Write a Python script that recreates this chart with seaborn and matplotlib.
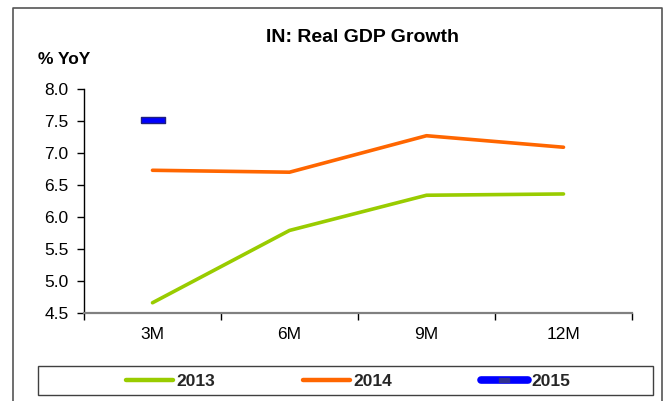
import matplotlib
matplotlib.use("Agg")
import matplotlib.pyplot as plt
from matplotlib.lines import Line2D
from matplotlib.patches import Rectangle
import numpy as np
import pandas as pd
import seaborn as sns

# Data
periods = ["3M", "6M", "9M", "12M"]
growth_2013 = [4.66, 5.79, 6.34, 6.36]
growth_2014 = [6.73, 6.70, 7.27, 7.09]
period_2015 = ["3M"]
growth_2015 = [7.51]
y_ticks = [4.5, 5.0, 5.5, 6.0, 6.5, 7.0, 7.5, 8.0]

GREEN = "#99CC00"
ORANGE = "#FF6600"
BLUE = "#0000FF"
NAVY = "#202080"

sns.set_theme(style="white")
plt.rcParams["font.family"] = ["Liberation Sans", "DejaVu Sans"]

W, H = 667, 401
fig = plt.figure(figsize=(W / 100, H / 100), dpi=100)
fig.patch.set_facecolor("white")

def fx(px):
    return px / W

def fy(py):
    return 1 - py / H

ax = fig.add_axes([fx(84), fy(313), fx(632) - fx(84), fy(89) - fy(313)])
ax.set_facecolor("white")

df = pd.DataFrame({
    "period": periods * 2,
    "growth": growth_2013 + growth_2014,
    "year": ["2013"] * 4 + ["2014"] * 4,
})
sns.lineplot(data=df, x="period", y="growth", hue="year",
             palette={"2013": GREEN, "2014": ORANGE},
             linewidth=2.6, sort=False, legend=False, ax=ax)

# 2015: single observation drawn as a short horizontal bar marker
bar_marker = [(-4, -1), (4, -1), (4, 1), (-4, 1), (-4, -1)]
df15 = pd.DataFrame({"period": period_2015, "growth": growth_2015})
sns.lineplot(data=df15, x="period", y="growth", marker=bar_marker,
             markersize=17, markerfacecolor=BLUE, markeredgecolor=NAVY,
             markeredgewidth=1.0, color=BLUE, linewidth=0, legend=False, ax=ax)

ax.set_xlim(-0.5, 3.5)
ax.set_ylim(4.5, 8.0)
ax.set_yticks(y_ticks)
ax.set_yticklabels([f"{v:.1f}" for v in y_ticks])
ax.set_xticks(range(len(periods)))
ax.set_xticklabels(periods)
ax.set_xticks(np.arange(-0.5, len(periods), 1.0), minor=True)
ax.set_xlabel("")
ax.set_ylabel("")

for side in ("top", "right"):
    ax.spines[side].set_visible(False)
ax.spines["left"].set_color("black")
ax.spines["left"].set_linewidth(1.0)
ax.spines["bottom"].set_color("#808080")
ax.spines["bottom"].set_linewidth(1.6)

ax.tick_params(axis="y", which="major", direction="out", length=5, width=1,
               color="black", labelsize=12.5, labelcolor="black", pad=6, left=True)
ax.tick_params(axis="x", which="major", length=0, labelsize=12.5,
               labelcolor="black", pad=10)
ax.tick_params(axis="x", which="minor", direction="out", length=5, width=1,
               color="black", bottom=True)
ax.grid(False)

# Title and unit label
fig.text(fx(362), fy(37), "IN: Real GDP Growth", ha="center", va="center",
         fontsize=14, fontweight="bold", color="black")
fig.text(fx(38), fy(60), "% YoY", ha="left", va="center",
         fontsize=12.5, fontweight="bold", color="black")

# Outer chart frame
frame = Line2D([fx(13), fx(13), fx(662), fx(662)], [0, fy(8), fy(8), 0],
               transform=fig.transFigure, color="#555555", linewidth=1.2)
fig.add_artist(frame)

# Legend box
fig.add_artist(Rectangle((fx(38), fy(395)), fx(653) - fx(38), fy(366) - fy(395),
                         transform=fig.transFigure, facecolor="white",
                         edgecolor="#404040", linewidth=1.0))

legend_bar = [(-2, -1), (2, -1), (2, 1), (-2, 1), (-2, -1)]
handles = [
    Line2D([], [], color=GREEN, linewidth=3.2, solid_capstyle="round"),
    Line2D([], [], color=ORANGE, linewidth=3.2, solid_capstyle="round"),
    Line2D([], [], color=BLUE, linewidth=5.5, solid_capstyle="round",
           marker=legend_bar, markersize=7, markerfacecolor="#303090",
           markeredgecolor="#303090"),
]
leg = fig.legend(handles, ["2013", "2014", "2015"], loc="center",
                 bbox_to_anchor=(fx(348), fy(381)), ncol=3, frameon=False,
                 handlelength=2.7, handletextpad=0.2, columnspacing=5.1,
                 numpoints=1, prop={"weight": "bold", "size": 12.5})

fig.savefig("out.png", dpi=100, facecolor="white")
